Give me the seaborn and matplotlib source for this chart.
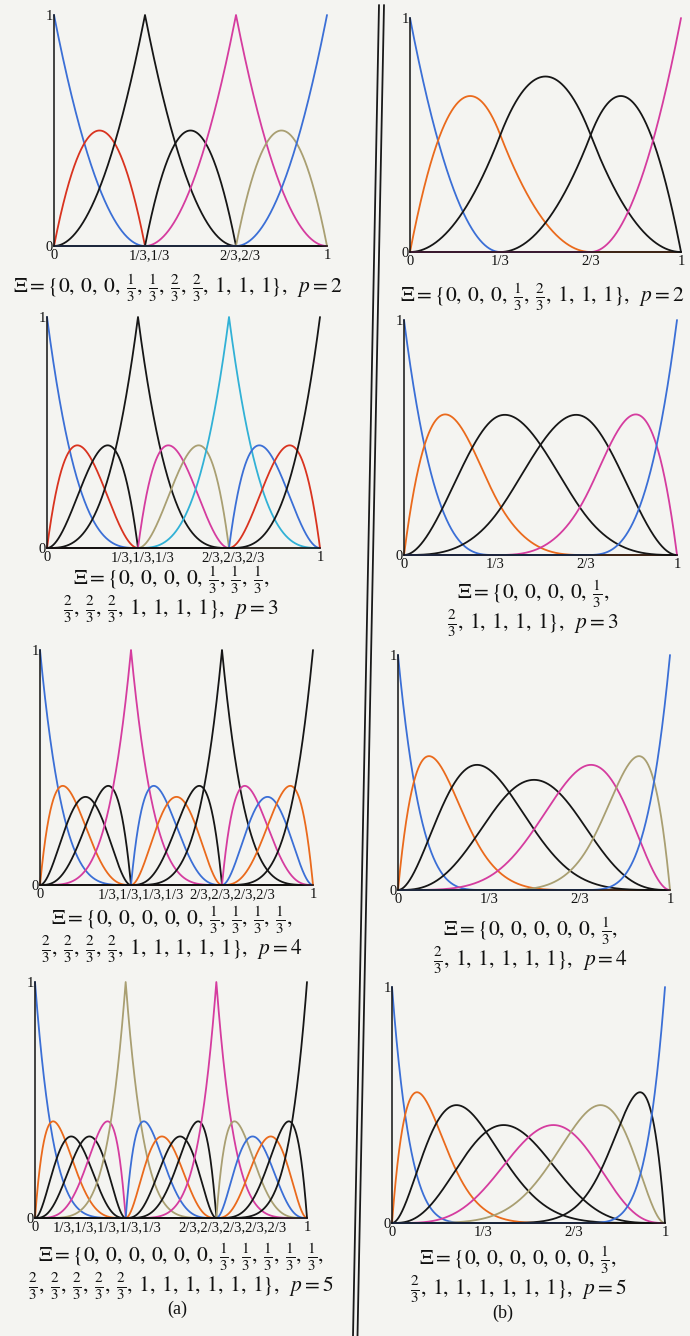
import numpy as np
import pandas as pd
import matplotlib
matplotlib.use("Agg")
import matplotlib.pyplot as plt
import seaborn as sns
from fractions import Fraction
from matplotlib.lines import Line2D
from matplotlib.transforms import ScaledTranslation

# ---- knot vectors and degrees -------------------------------------------
# column (a): repeated interior knots
knots_a2 = [0, 0, 0, 1/3, 1/3, 2/3, 2/3, 1, 1, 1]
knots_a3 = [0, 0, 0, 0, 1/3, 1/3, 1/3, 2/3, 2/3, 2/3, 1, 1, 1, 1]
knots_a4 = [0, 0, 0, 0, 0, 1/3, 1/3, 1/3, 1/3, 2/3, 2/3, 2/3, 2/3, 1, 1, 1, 1, 1]
knots_a5 = [0, 0, 0, 0, 0, 0, 1/3, 1/3, 1/3, 1/3, 1/3,
            2/3, 2/3, 2/3, 2/3, 2/3, 1, 1, 1, 1, 1, 1]
# column (b): simple interior knots
knots_b2 = [0, 0, 0, 1/3, 2/3, 1, 1, 1]
knots_b3 = [0, 0, 0, 0, 1/3, 2/3, 1, 1, 1, 1]
knots_b4 = [0, 0, 0, 0, 0, 1/3, 2/3, 1, 1, 1, 1, 1]
knots_b5 = [0, 0, 0, 0, 0, 0, 1/3, 2/3, 1, 1, 1, 1, 1, 1]
degrees = [2, 3, 4, 5]

# ---- axis tick labels ---------------------------------------------------
tick_pos = [0, 1/3, 2/3, 1]
ticks_a2 = ["0", "1/3,1/3", "2/3,2/3", "1"]
ticks_a3 = ["0", "1/3,1/3,1/3", "2/3,2/3,2/3", "1"]
ticks_a4 = ["0", "1/3,1/3,1/3,1/3", "2/3,2/3,2/3,2/3", "1"]
ticks_a5 = ["0", "1/3,1/3,1/3,1/3,1/3", "2/3,2/3,2/3,2/3,2/3", "1"]
ticks_b = ["0", "1/3", "2/3", "1"]

# ---- curve colours ------------------------------------------------------
BL, RD, OR, BK, MG, OL, CY = ("#3b6fd6", "#d9331f", "#ea6a1c", "#161616",
                              "#d53c9f", "#a99f72", "#31b1d6")
colors_a2 = [BL, RD, BK, BK, MG, OL, BL]
colors_a3 = [BL, RD, BK, BK, MG, OL, CY, BL, RD, BK]
colors_a4 = [BL, OR, BK, BK, MG, BL, OR, BK, BK, MG, BL, OR, BK]
colors_a5 = [BL, OR, BK, BK, MG, OL, BL, OR, BK, BK, MG, OL, BL, OR, BK, BK]
colors_b2 = [BL, OR, BK, BK, MG]
colors_b3 = [BL, OR, BK, BK, MG, BL]
colors_b4 = [BL, OR, BK, BK, MG, OL, BL]
colors_b5 = [BL, OR, BK, BK, MG, OL, BK, BL]


def bspline_basis(knots, p, x):
    """Cox-de Boor recursion; returns one row per basis function."""
    t = np.asarray(knots, float)
    n = len(t) - 1
    N = np.zeros((n, x.size))
    for i in range(n):
        if t[i] < t[i + 1]:
            N[i] = ((x >= t[i]) & (x < t[i + 1])).astype(float)
    last = max(i for i in range(n) if t[i] < t[i + 1])
    N[last, x >= t[-1]] = 1.0
    for k in range(1, p + 1):
        M = np.zeros((n - k, x.size))
        for i in range(n - k):
            a = t[i + k] - t[i]
            b = t[i + k + 1] - t[i + 1]
            if a > 0:
                M[i] += (x - t[i]) / a * N[i]
            if b > 0:
                M[i] += (t[i + k + 1] - x) / b * N[i + 1]
        N = M
    return N


def knot_tex(v):
    f = Fraction(v).limit_denominator(12)
    if f.denominator == 1:
        return str(f.numerator)
    return r"\frac{%d}{%d}" % (f.numerator, f.denominator)


SEP = r",\:"


def caption_text(knots, p, split):
    parts = [knot_tex(v) for v in knots]
    tail = r"\},\;\;p = %d$" % p
    if split is None:
        return r"$\Xi = \{" + SEP.join(parts) + tail
    return (r"$\Xi = \{" + SEP.join(parts[:split]) + r",$" + "\n"
            + r"$" + SEP.join(parts[split:]) + tail)


W, H = 690, 1336
sns.set_theme(style="white")
plt.rcParams["font.family"] = ["Liberation Serif", "DejaVu Serif"]
plt.rcParams["mathtext.fontset"] = "stix"
PAPER = "#f4f4f1"
INK = "#111111"

fig = plt.figure(figsize=(W / 100, H / 100), dpi=100, facecolor=PAPER)

# (knots, degree, colours, tick labels, box px (x0, ytop, x1, ybot),
#  caption centre x, caption centre y, caption split, middle-label shifts px)
panels = [
    (knots_a2, degrees[0], colors_a2, ticks_a2, (54, 15, 327, 246), 178, 288, None, (4, 4)),
    (knots_b2, degrees[0], colors_b2, ticks_b, (410, 18, 681, 252), 542, 297, None, (0, 0)),
    (knots_a3, degrees[1], colors_a3, ticks_a3, (47, 317, 320, 548), 171, 595, 7, (5, 4)),
    (knots_b3, degrees[1], colors_b3, ticks_b, (404, 320, 677, 555), 533, 609, 5, (0, 0)),
    (knots_a4, degrees[2], colors_a4, ticks_a4, (40, 650, 313, 885), 172, 935, 9, (10, 10)),
    (knots_b4, degrees[2], colors_b4, ticks_b, (398, 655, 670, 890), 530, 946, 6, (0, 0)),
    (knots_a5, degrees[3], colors_a5, ticks_a5, (35, 982, 307, 1218), 181, 1272, 11, (-19, 16)),
    (knots_b5, degrees[3], colors_b5, ticks_b, (392, 987, 665, 1223), 518, 1275, 7, (0, 0)),
]

# caption type size: scale so the first caption spans its column width
renderer = fig.canvas.get_renderer()
probe = fig.text(0, 0, caption_text(knots_a2, degrees[0], None), fontsize=12)
cap_size = 12 * 330 / probe.get_window_extent(renderer).width
probe.remove()

for knots, p, cols, tlabels, box, cx, cy, split, shifts in panels:
    x0, yt, x1, yb = box
    ax = fig.add_axes([x0 / W, 1 - yb / H, (x1 - x0) / W, (yb - yt) / H])
    ax.set_facecolor("none")

    xs = np.unique(np.concatenate([np.linspace(0, 1, 1501), np.asarray(knots, float)]))
    basis = bspline_basis(knots, p, xs)
    names = [f"N{i}" for i in range(basis.shape[0])]
    df = pd.concat([pd.DataFrame({"xi": xs, "N": basis[i], "fn": names[i]})
                    for i in range(basis.shape[0])], ignore_index=True)
    sns.lineplot(data=df, x="xi", y="N", hue="fn", hue_order=names,
                 palette=dict(zip(names, cols)), estimator=None, sort=False,
                 legend=False, linewidth=1.3, ax=ax, clip_on=False)

    ax.set_xlim(0, 1)
    ax.set_ylim(0, 1)
    ax.set_xlabel("")
    ax.set_ylabel("")
    for s in ("top", "right"):
        ax.spines[s].set_visible(False)
    for s in ("left", "bottom"):
        ax.spines[s].set_color(INK)
        ax.spines[s].set_linewidth(1.1)

    ax.set_xticks(tick_pos, tlabels)
    ax.set_yticks([0, 1], ["0", "1"])
    ax.tick_params(axis="x", direction="in", length=3, width=0.8, pad=2,
                   labelsize=10.5, colors=INK)
    ax.tick_params(axis="y", length=0, pad=1, labelsize=10.5, colors=INK)
    xt = ax.get_xticklabels()
    for lab, dx in zip(xt[1:3], shifts):
        lab.set_transform(lab.get_transform() + ScaledTranslation(dx / 100, 0, fig.dpi_scale_trans))

    fig.text(cx / W, 1 - cy / H, caption_text(knots, p, split), ha="center",
             va="center", multialignment="center", linespacing=0.95,
             fontsize=cap_size, color=INK)

fig.text(177 / W, 1 - 1309 / H, "(a)", ha="center", va="center", fontsize=13, color=INK)
fig.text(503 / W, 1 - 1313 / H, "(b)", ha="center", va="center", fontsize=13, color=INK)

# double rule separating the two columns
for top_x, bot_x in ((379, 353), (384, 357.5)):
    fig.add_artist(Line2D([top_x / W, bot_x / W], [1 - 5 / H, 0],
                          transform=fig.transFigure, color="#1a1a1a", lw=1.3))

fig.savefig("out.png", dpi=100, facecolor=PAPER)
